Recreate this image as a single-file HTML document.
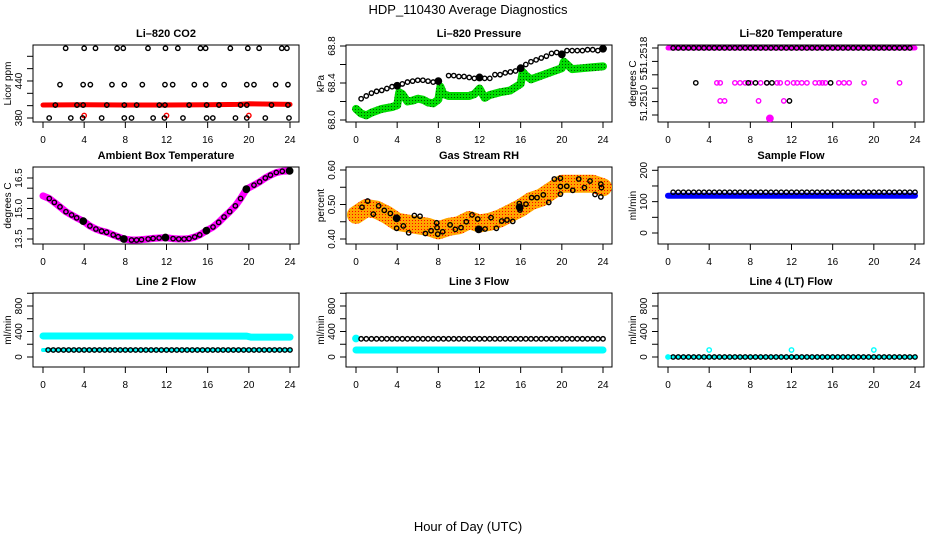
<!DOCTYPE html>
<html><head><meta charset="utf-8"><title>HDP_110430 Average Diagnostics</title>
<style>
html,body{margin:0;padding:0;background:#fff;}
svg{display:block;font-family:"Liberation Sans",Arial,sans-serif;}
</style></head>
<body>
<svg id="chart" width="936" height="540" viewBox="0 0 936 540" xmlns="http://www.w3.org/2000/svg">
<defs>
<pattern id="rhDots" width="3" height="3" patternUnits="userSpaceOnUse">
<rect width="3" height="3" fill="#ffa500"/><rect x="1" y="1" width="1" height="1" fill="#ff0000"/>
</pattern>
<pattern id="grDots" width="3" height="3" patternUnits="userSpaceOnUse">
<rect width="3" height="3" fill="#00dd00"/><rect x="1" y="1" width="1" height="1" fill="#005500"/>
</pattern>
</defs>
<text x="468" y="14" font-size="13" text-anchor="middle">HDP_110430  Average Diagnostics</text>
<text x="468" y="531" font-size="13" text-anchor="middle">Hour of Day (UTC)</text>
</svg>
<script>
// ---------- data ----------
const xTicks = [0,4,8,12,16,20,24];
const gridHours = [0.5,1,1.5,2,2.5,3,3.5,4,4.5,5,5.5,6,6.5,7,7.5,8,8.5,9,9.5,10,10.5,11,11.5,12,12.5,13,13.5,14,14.5,15,15.5,16,16.5,17,17.5,18,18.5,19,19.5,20,20.5,21,21.5,22,22.5,23,23.5,24];
const bandHours = [0,24];

// CO2
const co2TopHours = [2.2,4.0,5.1,7.2,7.8,10.2,11.9,13.1,15.3,15.8,18.2,19.9,21.0,23.2,23.7];
const co2TopValue = 493;
const co2MidHours = [1.65,3.9,4.6,6.7,7.9,9.65,11.85,12.6,14.7,15.8,17.6,19.8,20.5,22.6,23.8];
const co2MidValue = 434;
const co2BandHours = [1.2,3.3,3.9,6.2,7.9,9.1,11.3,11.85,14.2,15.9,17.1,19.2,19.8,22.2,23.8];
const co2BandValue = 401;
const co2LowHours = [0.6,2.7,3.85,5.7,7.9,8.6,10.7,11.8,13.6,15.9,16.5,18.7,19.8,21.6,23.9];
const co2LowValue = 380;
const co2RedHours = [0,4,8,12,16,19,20,24];
const co2RedValues = [401,401.5,401,401,401.5,402,403,402];
const co2RedPtHours = [4,12,20];
const co2RedPtValues = [384,384,384];

// Pressure
const presBlackHours = [0.5,1,1.5,2,2.5,3,3.5,4,4.5,5,5.5,6,6.5,7,7.5,8,9,9.5,10,10.5,11,11.5,12,12.5,13,13.5,14,14.5,15,15.5,16,16.5,17,17.5,18,18.5,19,19.5,20,20.5,21,21.5,22,22.5,23,23.5,24];
const presBlackValues = [68.23,68.26,68.29,68.31,68.32,68.34,68.36,68.37,68.39,68.41,68.42,68.43,68.43,68.42,68.41,68.42,68.48,68.48,68.47,68.47,68.46,68.45,68.46,68.45,68.45,68.49,68.49,68.51,68.52,68.53,68.56,68.6,68.63,68.65,68.67,68.69,68.72,68.73,68.71,68.75,68.75,68.75,68.75,68.76,68.76,68.75,68.77];
const presSolidHours = [4,8,12,16,20,24];
const presSolidValues = [68.37,68.42,68.46,68.56,68.71,68.77];
const presGreenHours = [0,0.5,1,1.5,2,2.5,3,3.5,4,4.2,4.5,5,5.5,6,6.5,7,7.5,8,8.2,8.5,9,10,11,11.5,12,12.5,13,14,15,16,16.2,16.5,17,18,19,20,20.2,20.5,21,22,23,24];
const presGreenValues = [68.12,68.07,68.05,68.08,68.1,68.12,68.13,68.14,68.16,68.3,68.28,68.2,68.21,68.23,68.22,68.19,68.18,68.22,68.36,68.28,68.26,68.26,68.26,68.28,68.34,68.24,68.27,68.3,68.32,68.39,68.52,68.48,68.44,68.48,68.52,68.56,68.63,68.6,68.55,68.56,68.57,68.58];

// Li-820 temperature
const tempTopValue = 51.2518;
const tempMagMidHours = [4.75,5.07,6.5,7.0,7.5,8.0,9.0,9.6,10.6,10.9,11.6,12.2,12.55,13.0,13.5,14.3,14.7,15.0,15.3,16.6,17.1,17.6,19.05,22.5];
const tempBlackMidHours = [2.7,7.8,8.5,9.6,10.1,15.8];
const tempMidValue = 51.25128;
const tempMagLowHours = [5.07,5.5,8.8,11.25,20.2];
const tempBlackLowHours = [11.8];
const tempLowValue = 51.25101;
const tempMagBottomHours = [9.9];
const tempBottomValue = 51.25075;

// Ambient box temperature
const ambHours = [0.61,1.1,1.65,2.23,2.78,3.27,3.91,4.56,5.14,5.69,6.18,6.82,7.3,7.86,8.6,9.09,9.57,10.22,10.7,11.28,11.9,12.64,13.19,13.71,14.19,14.74,15.23,15.88,16.52,17.07,17.59,18.14,18.69,19.2,19.76,20.5,21.05,21.6,22.1,22.67,23.25,23.96];
const ambValues = [15.49,15.3,15.08,14.84,14.68,14.54,14.38,14.14,13.99,13.89,13.83,13.7,13.61,13.5,13.45,13.45,13.47,13.5,13.53,13.55,13.57,13.52,13.5,13.5,13.52,13.6,13.7,13.91,14.09,14.32,14.58,14.84,15.13,15.49,15.95,16.15,16.31,16.5,16.64,16.77,16.83,16.85];
const ambBandHours = [0,0.61,1.1,1.65,2.23,2.78,3.27,3.91,4.56,5.14,5.69,6.18,6.82,7.3,7.86,8.6,9.09,9.57,10.22,10.7,11.28,11.9,12.64,13.19,13.71,14.19,14.74,15.23,15.88,16.52,17.07,17.59,18.14,18.69,19.2,19.76,20.5,21.05,21.6,22.1,22.67,23.25,23.96];
const ambBandValues = [15.62,15.49,15.3,15.08,14.84,14.68,14.54,14.38,14.14,13.99,13.89,13.83,13.7,13.61,13.5,13.45,13.45,13.47,13.5,13.53,13.55,13.57,13.52,13.5,13.5,13.52,13.6,13.7,13.91,14.09,14.32,14.58,14.84,15.13,15.49,15.95,16.15,16.31,16.5,16.64,16.77,16.83,16.85];
const ambSolidHours = [3.91,7.86,11.9,15.88,19.76,23.96];
const ambSolidValues = [14.38,13.5,13.57,13.91,15.95,16.85];

// Gas stream RH
const rhHours = [0.58,1.13,1.68,2.2,2.75,3.34,3.89,3.95,4.6,5.12,5.67,6.22,6.74,7.29,7.84,7.87,7.94,8.42,9.14,9.65,10.2,10.72,11.27,11.83,11.92,12.54,13.12,13.64,14.16,14.67,15.23,15.87,15.94,16.52,17.07,17.59,18.2,18.73,19.27,19.86,19.86,19.86,20.48,21.06,21.64,22.19,22.74,23.23,23.79,23.85,23.79];
const rhValues = [0.492,0.51,0.472,0.496,0.483,0.474,0.462,0.431,0.438,0.418,0.468,0.466,0.416,0.424,0.447,0.433,0.414,0.421,0.441,0.428,0.433,0.45,0.47,0.458,0.428,0.429,0.462,0.431,0.452,0.455,0.451,0.503,0.484,0.501,0.52,0.52,0.528,0.506,0.574,0.576,0.552,0.53,0.553,0.541,0.574,0.549,0.568,0.529,0.559,0.549,0.522];
const rhBandHours = [0,1,2,3,4,5,6,7,8,9,10,11,12,13,14,15,16,17,18,19,20,21,22,23,24];
const rhBandValues = [0.47,0.49,0.485,0.47,0.45,0.445,0.44,0.435,0.425,0.435,0.44,0.455,0.445,0.45,0.46,0.475,0.49,0.51,0.52,0.54,0.56,0.56,0.56,0.56,0.55];
const rhSolidHours = [3.95,11.92,15.9];
const rhSolidValues = [0.46,0.428,0.492];

// Flows
const sampleBlackValue = 130;
const sampleBlueValue = 119;
const line2CyanHigh = [330,330,330,328,312,312];
const line2CyanHighHours = [0,4,12,19.8,20.2,24];
const line2BlackValue = 110;
const line2CyanLowValue = 110;
const line3BlackValue = 285;
const line3CyanLowValue = 110;
const line3CyanPtHours = [0];
const line3CyanPtValues = [290];
const line4BlackValue = 0;
const line4CyanLowValue = 0;
const line4CyanPtHours = [0,4,12,20];
const line4CyanPtValues = [0,110,110,110];

// ---------- drawing ----------
const svg = document.getElementById('chart');
const NS = 'http://www.w3.org/2000/svg';
function mk(tag, attrs, parent){
  const e = document.createElementNS(NS, tag);
  for (const k in attrs) e.setAttribute(k, attrs[k]);
  (parent||svg).appendChild(e);
  return e;
}
const colLeft = [33,346,658];
const rowTop = [45,167,293];
const rowBottom = [122,244,367];
const W = 266;

function makePanel(col,row,name,title,ytitle,yA,yB,ticks,labels){
  const L = colLeft[col], T = rowTop[row], B = rowBottom[row];
  const g = mk('g',{});
  
  
  const x = h => L + 10 + h*(W-19)/24;
  const y = v => yA[1] + (v-yA[0])*(yB[1]-yA[1])/(yB[0]-yA[0]);
  const box = mk('rect',{x:L,y:T,width:W,height:B-T,fill:'none',stroke:'#000','stroke-width':1},g);
  
  
  const t = mk('text',{x:L+W/2,y:T-8,'font-size':11,'font-weight':'bold','text-anchor':'middle'},g);
  t.textContent = title;
  
  
  const yt = mk('text',{transform:`translate(${L-22},${(T+B)/2}) rotate(-90)`,'font-size':10,'text-anchor':'middle'},g);
  yt.textContent = ytitle;
  
  
  const xa = mk('g',{},g);
  
  
  xTicks.forEach(h=>{
    mk('line',{x1:x(h),x2:x(h),y1:B,y2:B+6,stroke:'#000'},xa);
    const lt = mk('text',{x:x(h),y:B+21,'font-size':10,'text-anchor':'middle'},xa);
    lt.textContent = String(h);
  });
  const ya = mk('g',{},g);
  
  
  ticks.forEach(v=>{
    mk('line',{x1:L-6,x2:L,y1:y(v),y2:y(v),stroke:'#000'},ya);
  });
  labels.forEach(lb=>{
    const lt = mk('text',{transform:`translate(${L-11},${y(lb[0])}) rotate(-90)`,'font-size':10,'text-anchor':'middle'},ya);
    lt.textContent = lb[1];
  });
  const marks = mk('g',{},g);
  
  
  return {x,y,g:marks};
}
function band(p,hours,vals,color,w,nm){
  const pts = hours.map((h,i)=>p.x(h)+','+p.y(vals[i])).join(' ');
  const e = mk('polyline',{points:pts,fill:'none',stroke:color,'stroke-width':w,'stroke-linecap':'round','stroke-linejoin':'round'},p.g);
  
  
}
function pts(p,hours,vals,color,nm,solid){
  const grp = mk('g',{},p.g);
  
  
  hours.forEach((h,i)=>{
    const v = Array.isArray(vals)?vals[i]:vals;
    mk('circle',{cx:p.x(h),cy:p.y(v),r:solid?3.2:2.2,fill:solid?color:'none',stroke:color,'stroke-width':1.4},grp);
  });
}
const flat = (n,v)=>Array(n).fill(v);

// Panel 1 CO2
let p = makePanel(0,0,'co2-panel','Li\u2013820 CO2','Licor ppm',[380,118],[480,56.3],[380,400,420,440,460,480],[[380,'380'],[440,'440']]);
band(p,co2RedHours,co2RedValues,'#ff0000',5,'co2-red-band');
pts(p,co2RedPtHours,co2RedPtValues,'#ff0000','co2-red-points');
pts(p,co2TopHours,co2TopValue,'#000','co2-top-points');
pts(p,co2MidHours,co2MidValue,'#000','co2-mid-points');
pts(p,co2BandHours,co2BandValue,'#000','co2-band-points');
pts(p,co2LowHours,co2LowValue,'#000','co2-low-points');

// Panel 2 pressure
p = makePanel(1,0,'pressure-panel','Li\u2013820 Pressure','kPa',[68.0,120],[68.8,46],[68.0,68.2,68.4,68.6,68.8],[[68.0,'68.0'],[68.4,'68.4'],[68.8,'68.8']]);
band(p,presGreenHours,presGreenValues,'url(#grDots)',8,'pressure-green-band');
pts(p,presBlackHours,presBlackValues,'#000','pressure-black-points');
pts(p,presSolidHours,presSolidValues,'#000','pressure-solid-points',true);

// Panel 3 temperature
p = makePanel(2,0,'li820-temperature-panel','Li\u2013820 Temperature','degrees C',[51.2518,48],[51.2508,115],[51.2518,51.2516,51.2514,51.2512,51.2510,51.2508],[[51.2517,'51.2518'],[51.2514,'51'],[51.25098,'51.2510']]);
band(p,bandHours,flat(2,tempTopValue),'#ff00ff',5,'temp-magenta-band');
pts(p,gridHours.slice(0,47),tempTopValue,'#000','temp-top-black-points');
pts(p,tempMagMidHours,tempMidValue,'#ff00ff','temp-mid-magenta-points');
pts(p,tempBlackMidHours,tempMidValue,'#000','temp-mid-black-points');
pts(p,tempMagLowHours,tempLowValue,'#ff00ff','temp-low-magenta-points');
pts(p,tempBlackLowHours,tempLowValue,'#000','temp-low-black-points');
pts(p,tempMagBottomHours,tempBottomValue,'#ff00ff','temp-bottom-magenta-points',true);

// Panel 4 ambient
p = makePanel(0,1,'ambient-temperature-panel','Ambient Box Temperature','degrees C',[13.5,239],[16.5,178],[13.5,14,14.5,15,15.5,16,16.5],[[13.5,'13.5'],[15.0,'15.0'],[16.5,'16.5']]);
band(p,ambBandHours,ambBandValues,'#ff00ff',7,'ambient-magenta-band');
pts(p,ambHours,ambValues,'#000','ambient-black-points');
pts(p,ambSolidHours,ambSolidValues,'#000','ambient-solid-points',true);

// Panel 5 RH
p = makePanel(1,1,'rh-panel','Gas Stream RH','percent',[0.40,239],[0.60,170],[0.40,0.45,0.50,0.55,0.60],[[0.40,'0.40'],[0.50,'0.50'],[0.60,'0.60']]);
band(p,rhBandHours,rhBandValues,'url(#rhDots)',18,'rh-orange-band');
pts(p,rhHours,rhValues,'#000','rh-black-points');
pts(p,rhSolidHours,rhSolidValues,'#000','rh-solid-points',true);

// Panel 6 sample flow
p = makePanel(2,1,'sample-flow-panel','Sample Flow','ml/min',[0,233],[200,170.3],[0,50,100,150,200],[[0,'0'],[100,'100'],[200,'200']]);
band(p,bandHours,flat(2,sampleBlueValue),'#0000ff',6,'sample-blue-band');
pts(p,gridHours,sampleBlackValue,'#000','sample-black-points');

// Panel 7 line 2
const flowTicks = [0,200,400,600,800,1000];
const flowLabels = [[0,'0'],[400,'400'],[800,'800']];
p = makePanel(0,2,'line2-flow-panel','Line 2 Flow','ml/min',[0,357],[800,306],flowTicks,flowLabels);
band(p,line2CyanHighHours,line2CyanHigh,'#00ffff',7,'line2-cyan-high-band');
band(p,bandHours,flat(2,line2CyanLowValue),'#00ffff',4,'line2-cyan-low-band');
pts(p,gridHours,line2BlackValue,'#000','line2-black-points');

// Panel 8 line 3
p = makePanel(1,2,'line3-flow-panel','Line 3 Flow','ml/min',[0,357],[800,306],flowTicks,flowLabels);
band(p,bandHours,flat(2,line3CyanLowValue),'#00ffff',7,'line3-cyan-band');
pts(p,line3CyanPtHours,line3CyanPtValues,'#00ffff','line3-cyan-points',true);
pts(p,gridHours,line3BlackValue,'#000','line3-black-points');

// Panel 9 line 4
p = makePanel(2,2,'line4-flow-panel','Line 4 (LT) Flow','ml/min',[0,357],[800,306],flowTicks,flowLabels);
band(p,bandHours,flat(2,line4CyanLowValue),'#00ffff',4,'line4-cyan-band');
pts(p,gridHours,line4BlackValue,'#000','line4-black-points');
pts(p,line4CyanPtHours,line4CyanPtValues,'#00ffff','line4-cyan-points');
</script>
</body></html>
